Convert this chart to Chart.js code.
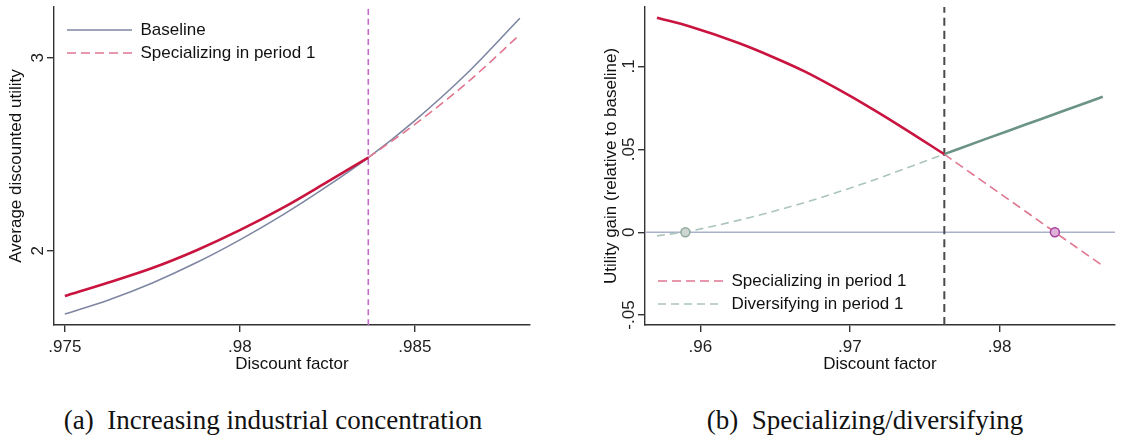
<!DOCTYPE html>
<html>
<head>
<meta charset="utf-8">
<script src="https://cdn.jsdelivr.net/npm/chart.js@4/dist/chart.umd.min.js"></script>
<style>
  html, body { margin: 0; padding: 0; background: #fff; }
  body { width: 1121px; height: 438px; position: relative; overflow: hidden; }
  #panelA { position: absolute; left: 0; top: 0; }
  #panelB { position: absolute; left: 560px; top: 0; }
  .caption {
    position: absolute; top: 405px; line-height: 30px;
    font-family: "Liberation Serif", "DejaVu Serif", serif; font-size: 27px; color: #111;
    white-space: nowrap; transform: translateX(-50%);
  }
</style>
</head>
<body>
<canvas id="panelA" width="560" height="380"></canvas>
<canvas id="panelB" width="561" height="380"></canvas>
<div class="caption" style="left:273px">(a)&nbsp; Increasing industrial concentration</div>
<div class="caption" style="left:865px">(b)&nbsp; Specializing/diversifying</div>
<script>
// ---- panel (a): average discounted utility ----
const discountA = [0.975, 0.97625, 0.9775, 0.97875, 0.98, 0.98125, 0.9825, 0.98367];
const baselineA = [1.673, 1.746, 1.834, 1.938, 2.057, 2.189, 2.335, 2.483];
const specializingA = [1.766, 1.836, 1.911, 2.002, 2.107, 2.225, 2.357, 2.483];
const discountAHigh = [0.98367, 0.985, 0.9865, 0.988];
const baselineAHigh = [2.483, 2.675, 2.921, 3.205];
const specializingAHigh = [2.483, 2.655, 2.872, 3.120];
const cutoffA = 0.98367;
const xTicksA = [0.975, 0.98, 0.985];
const yTicksA = [2, 3];

// ---- panel (b): utility gain relative to baseline ----
const discountBLow = [0.9571, 0.9593, 0.9626, 0.9648, 0.9670, 0.9692, 0.9714, 0.9736, 0.9763];
const specGainLow = [0.1294, 0.1241, 0.1140, 0.1059, 0.0969, 0.0863, 0.0749, 0.0627, 0.0471];
const divGainLow = [-0.0022, 0.0007, 0.0073, 0.0124, 0.0180, 0.0242, 0.0309, 0.0381, 0.0471];
const discountBHigh = [0.9763, 0.9790, 0.9817, 0.9843, 0.9869];
const specGainHigh = [0.0471, 0.0299, 0.0128, -0.0038, -0.0202];
const divGainHigh = [0.0471, 0.0560, 0.0648, 0.0733, 0.0817];
const cutoffB = 0.97631;
const divZero = 0.9590;
const specZero = 0.9837;
const xTicksB = [0.96, 0.97, 0.98];
const yTicksB = [-0.05, 0, 0.05, 0.1];

const rangeA = { xMin: 0.97469, xMax: 0.98829, yMin: 1.616, yMax: 3.263 };
const rangeB = { xMin: 0.95630, xMax: 0.98772, yMin: -0.0560, yMax: 0.1359 };

Chart.defaults.font.family = '"Liberation Sans", Arial, sans-serif';
Chart.defaults.font.size = 17;
Chart.defaults.color = '#222';
Chart.defaults.animation = false;

const pts = (xs, ys) => xs.map((x, i) => ({ x: x, y: ys[i] }));
const fmt = (v) => String(Math.round(v * 1000) / 1000).replace(/^(-?)0\./, '$1.');

// nudge the in-plot legend to where Stata puts it
const legendShift = {
  id: 'legendShift',
  afterLayout(chart, args, opts) {
    const lg = chart.legend;
    if (!lg) return;
    lg.left += opts.dx; lg.right += opts.dx;
    lg.top += opts.dy; lg.bottom += opts.dy;
  },
};

function axis(range, ticks, title, isX, size, titlePad, tickPad) {
  return {
    type: 'linear',
    min: isX ? range.xMin : range.yMin,
    max: isX ? range.xMax : range.yMax,
    afterBuildTicks: (s) => { s.ticks = ticks.map((v) => ({ value: v })); },
    afterFit: (s) => {
      if (isX) s.height = size; else s.width = size;
      s.paddingTop = 0; s.paddingBottom = 0; s.paddingLeft = 0; s.paddingRight = 0;
    },
    border: { color: '#333', width: 1.4 },
    grid: { display: true, drawOnChartArea: false, drawTicks: true, tickLength: 7, color: '#333', lineWidth: 1.4 },
    ticks: isX
      ? { callback: fmt, padding: tickPad, maxRotation: 0, minRotation: 0, autoSkip: false }
      : { callback: fmt, padding: tickPad, minRotation: 90, maxRotation: 90, crossAlign: 'center', autoSkip: false },
    title: {
      display: true, text: title, color: '#111',
      padding: isX ? { top: 0, bottom: titlePad } : { top: titlePad, bottom: 0 },
    },
  };
}

function legendOpts(align) {
  return {
    position: 'chartArea',
    align: align,
    labels: {
      usePointStyle: true, pointStyle: 'line', pointStyleWidth: 65,
      padding: 6, color: '#111', font: { size: 17 },
      // keep the dash pattern of the line in the legend sample
      generateLabels: (chart) => Chart.defaults.plugins.legend.labels.generateLabels(chart).map((item) => {
        const ds = chart.data.datasets[item.datasetIndex];
        item.lineDash = ds.borderDash || [];
        item.strokeStyle = ds.borderColor;
        item.lineWidth = 1.6;
        return item;
      }),
      filter: (item, data) => data.datasets[item.datasetIndex].legendRank > 0,
      sort: (a, b, data) => data.datasets[a.datasetIndex].legendRank - data.datasets[b.datasetIndex].legendRank,
    },
  };
}

const lineDefaults = { pointRadius: 0, fill: false, cubicInterpolationMode: 'monotone', borderCapStyle: 'butt' };

new Chart(document.getElementById('panelA'), {
  type: 'line',
  data: {
    datasets: [
      Object.assign({}, lineDefaults, {
        label: 'Specializing solid', data: pts(discountA, specializingA),
        borderColor: '#c8143f', borderWidth: 2.6, legendRank: 0,
      }),
      Object.assign({}, lineDefaults, {
        label: 'Specializing in period 1', data: pts(discountAHigh, specializingAHigh),
        borderColor: '#e07690', borderWidth: 1.6, borderDash: [9, 5], legendRank: 2,
      }),
      Object.assign({}, lineDefaults, {
        label: 'Baseline', data: pts(discountA.concat(discountAHigh.slice(1)), baselineA.concat(baselineAHigh.slice(1))),
        borderColor: '#7e86a2', borderWidth: 1.6, legendRank: 1,
      }),
      Object.assign({}, lineDefaults, {
        label: 'cutoff', data: pts([cutoffA, cutoffA], [rangeA.yMin, rangeA.yMax]),
        borderColor: '#c46cc8', borderWidth: 1.6, borderDash: [6, 4], legendRank: 0,
      }),
    ],
  },
  options: {
    responsive: false,
    layout: { padding: { top: 7, right: 30, left: 0, bottom: 0 } },
    scales: {
      x: axis(rangeA, xTicksA, 'Discount factor', true, 55, 5, 5),
      y: axis(rangeA, yTicksA, 'Average discounted utility', false, 54, 6.5, 4),
    },
    plugins: {
      legend: legendOpts('start'),
      tooltip: { enabled: false },
      legendShift: { dx: 7, dy: 15.5 },
    },
  },
  plugins: [legendShift],
});

new Chart(document.getElementById('panelB'), {
  type: 'line',
  data: {
    datasets: [
      {
        label: 'zeros', data: pts([divZero], [0]), showLine: false,
        pointRadius: 4.5, pointBorderWidth: 1.5, pointBorderColor: '#8fab9f', pointBackgroundColor: '#cdd6d1', legendRank: 0,
      },
      {
        label: 'zeros2', data: pts([specZero], [0]), showLine: false,
        pointRadius: 4.5, pointBorderWidth: 1.5, pointBorderColor: '#a8409e', pointBackgroundColor: '#dfb0d8', legendRank: 0,
      },
      Object.assign({}, lineDefaults, {
        label: 'Specializing solid', data: pts(discountBLow, specGainLow),
        borderColor: '#c8143f', borderWidth: 2.6, legendRank: 0,
      }),
      Object.assign({}, lineDefaults, {
        label: 'Diversifying solid', data: pts(discountBHigh, divGainHigh),
        borderColor: '#6b9484', borderWidth: 2.6, legendRank: 0,
      }),
      Object.assign({}, lineDefaults, {
        label: 'Specializing in period 1', data: pts(discountBHigh, specGainHigh),
        borderColor: '#e07690', borderWidth: 1.6, borderDash: [9, 5], legendRank: 1,
      }),
      Object.assign({}, lineDefaults, {
        label: 'Diversifying in period 1', data: pts(discountBLow, divGainLow),
        borderColor: '#abc5ba', borderWidth: 1.6, borderDash: [8, 5], legendRank: 2,
      }),
      Object.assign({}, lineDefaults, {
        label: 'cutoff', data: pts([cutoffB, cutoffB], [rangeB.yMin, rangeB.yMax]),
        borderColor: '#4a4a4a', borderWidth: 2, borderDash: [8, 5], legendRank: 0,
      }),
      Object.assign({}, lineDefaults, {
        label: 'zero line', data: pts([rangeB.xMin, rangeB.xMax], [0, 0]),
        borderColor: '#aab2cc', borderWidth: 1.5, legendRank: 0,
      }),
    ],
  },
  options: {
    responsive: false,
    layout: { padding: { top: 7, right: 0, left: 0, bottom: 0 } },
    scales: {
      x: axis(rangeB, xTicksB, 'Discount factor', true, 55, 5, 5),
      y: axis(rangeB, yTicksB, 'Utility gain (relative to baseline)', false, 85, 41.5, -5.5),
    },
    plugins: {
      legend: legendOpts('end'),
      tooltip: { enabled: false },
      legendShift: { dx: 7, dy: 0.5 },
    },
  },
  plugins: [legendShift],
});
</script>
</body>
</html>
